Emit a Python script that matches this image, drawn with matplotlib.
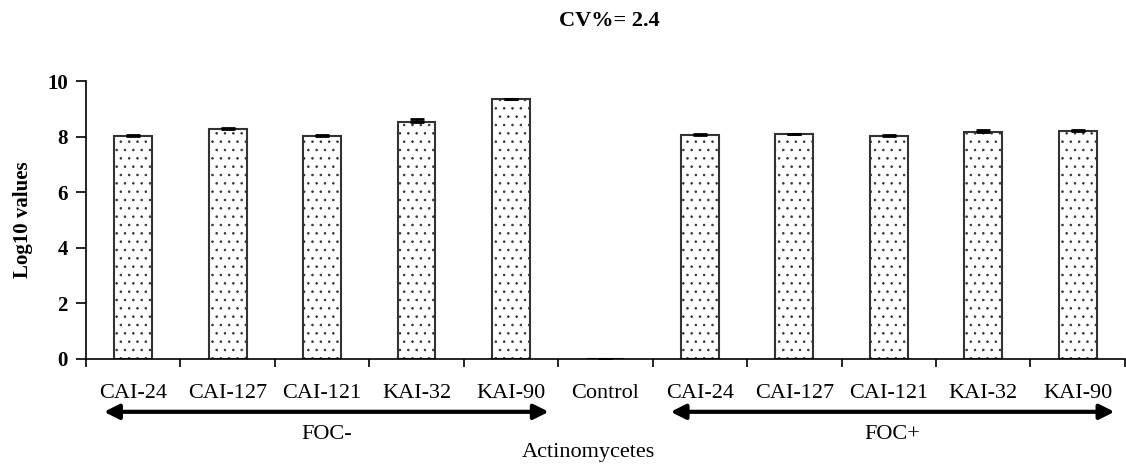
import matplotlib
matplotlib.use("Agg")
import matplotlib.pyplot as plt
import numpy as np

categories = ["CAI-24", "CAI-127", "CAI-121", "KAI-32", "KAI-90", "Control",
              "CAI-24", "CAI-127", "CAI-121", "KAI-32", "KAI-90"]
values = [8.02, 8.27, 8.02, 8.53, 9.34, 0.0, 8.07, 8.08, 8.03, 8.15, 8.19]
errors = [0.04, 0.04, 0.04, 0.10, 0.03, 0.0, 0.03, 0.03, 0.03, 0.08, 0.03]
y_ticks = [0, 2, 4, 6, 8, 10]
title = "CV%= 2.4"
ylabel = "Log10 values"
xlabel = "Actinomycetes"
group_labels = ["FOC-", "FOC+"]

plt.rcParams['font.family'] = ['Liberation Serif', 'DejaVu Serif']
plt.rcParams['hatch.linewidth'] = 0.6
plt.rcParams['hatch.color'] = '#444444'

fig = plt.figure(figsize=(11.26, 4.71), dpi=100)
ax = fig.add_axes([0.0764, 0.2378, 0.9226, 0.5902])

x = np.arange(len(categories))
ax.bar(x, values, width=0.4, color='white', edgecolor='#333333', linewidth=1.5,
       hatch='..', zorder=2)
ax.errorbar(x, values, yerr=[np.zeros(len(errors)), errors], fmt='none',
            ecolor='black', elinewidth=1.2, capsize=5, capthick=2, zorder=3)

ax.set_xlim(-0.5, len(categories) - 0.5)
ax.set_ylim(0, 10)
ax.set_yticks(y_ticks)
ax.set_yticklabels([str(t) for t in y_ticks], fontsize=15, fontweight='bold')
ax.tick_params(axis='y', direction='out', length=7, width=1.2, pad=6)

ax.set_xticks(np.arange(len(categories) + 1) - 0.5)
ax.set_xticklabels([])
ax.set_xticks(x, minor=True)
ax.set_xticklabels(categories, minor=True, fontsize=16)
ax.tick_params(axis='x', which='major', direction='out', length=6, width=1.2)
ax.tick_params(axis='x', which='minor', length=0, pad=18)

for s in ['top', 'right']:
    ax.spines[s].set_visible(False)
for s in ['left', 'bottom']:
    ax.spines[s].set_linewidth(1.2)
    ax.spines[s].set_color('black')

ax.set_ylabel(ylabel, fontsize=15, fontweight='bold', labelpad=10)

trans = ax.get_xaxis_transform()
arrow_y = -0.19
for (x0, x1), lab in zip([(-0.31, 4.40), (5.69, 10.39)], group_labels):
    ax.annotate('', xy=(x1, arrow_y), xytext=(x0, arrow_y), xycoords=trans,
                textcoords=trans, annotation_clip=False,
                arrowprops=dict(arrowstyle='<|-|>', color='black', lw=3,
                                mutation_scale=22, shrinkA=0, shrinkB=0))
    ax.text((x0 + x1) / 2, -0.27, lab, transform=trans, ha='center', va='center',
            fontsize=16)

fig.text(588 / 1126, 1 - 453 / 471, xlabel, ha='center', va='center', fontsize=16)
fig.text(609 / 1126, 1 - 21 / 471, title, ha='center', va='center', fontsize=16,
         fontweight='bold')

fig.savefig('out.png', dpi=100)
